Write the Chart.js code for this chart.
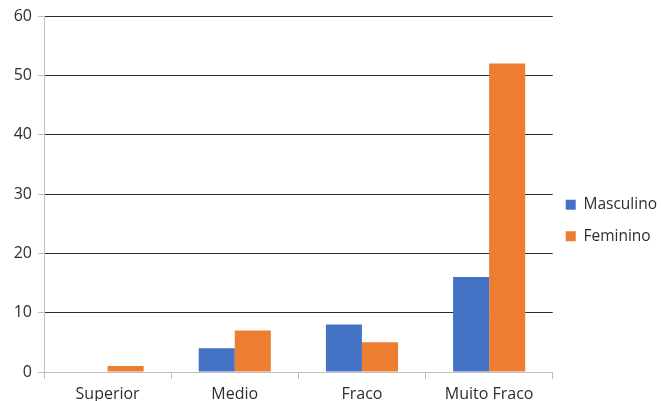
<!DOCTYPE html>
<html>
<head>
<meta charset="utf-8">
<script src="https://cdn.jsdelivr.net/npm/chart.js@4"></script>
<style>
  html, body { margin: 0; padding: 0; background: #ffffff; }
  #wrap { width: 661px; height: 401px; }
</style>
</head>
<body>
<div id="wrap"><canvas id="c" width="661" height="401"></canvas></div>
<script>
// Categories and series
const categories = ['Superior', 'Medio', 'Fraco', 'Muito Fraco'];
const masculino = [0, 4, 8, 16];
const feminino = [1, 7, 5, 52];
const yTicks = [0, 10, 20, 30, 40, 50, 60];

const FONT = { family: '"Open Sans", sans-serif', size: 16 };
const LEGEND_FONT = { family: '"Open Sans", sans-serif', size: 15.5 };
const TEXT = '#2e2e2e';

// Nudges the legend column into place beside the plot
const legendShift = {
  id: 'legendShift',
  afterLayout(chart) {
    const lg = chart.legend;
    if (lg) {
      lg.top += 12; lg.bottom += 12;
      lg.left -= 3; lg.right -= 3;
    }
  }
};

new Chart(document.getElementById('c'), {
  type: 'bar',
  data: {
    labels: categories,
    datasets: [
      { label: 'Masculino', data: masculino, backgroundColor: '#4472C4', borderWidth: 0 },
      { label: 'Feminino', data: feminino, backgroundColor: '#ED7D31', borderWidth: 0 }
    ]
  },
  options: {
    responsive: false,
    animation: false,
    layout: { padding: { top: 16, right: -9, bottom: 0, left: 0 } },
    datasets: { bar: { categoryPercentage: 0.567, barPercentage: 1.0 } },
    plugins: {
      legend: {
        position: 'right',
        align: 'center',
        labels: {
          font: LEGEND_FONT, color: TEXT,
          boxWidth: 10, boxHeight: 10, padding: 16
        }
      },
      tooltip: { enabled: false }
    },
    scales: {
      x: {
        grid: {
          offset: true, drawOnChartArea: false, drawTicks: true,
          tickLength: 7, color: '#bfbfbf'
        },
        border: { color: '#bfbfbf', width: 1 },
        ticks: { font: FONT, color: TEXT, padding: 6, maxRotation: 0 },
        afterFit(scale) { scale.height = 29; }
      },
      y: {
        min: 0, max: 60,
        afterBuildTicks(scale) { scale.ticks = yTicks.map(v => ({ value: v })); },
        grid: {
          color: ctx => (ctx.tick && ctx.tick.value === 0) ? '#bfbfbf' : '#2b2b2b',
          tickColor: '#bfbfbf', tickLength: 6, drawTicks: true
        },
        border: { color: '#bfbfbf', width: 1 },
        ticks: { font: FONT, color: TEXT, padding: 6 },
        afterFit(scale) { scale.width = 44; }
      }
    }
  },
  plugins: [legendShift]
});
</script>
</body>
</html>
